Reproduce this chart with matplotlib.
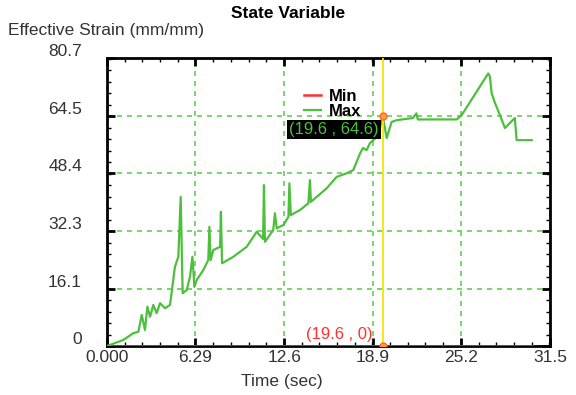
import matplotlib.pyplot as plt
from matplotlib.ticker import FixedLocator, AutoMinorLocator
import matplotlib.transforms as mtransforms

plt.rcParams['font.family'] = ['Liberation Sans', 'DejaVu Sans']

# time (sec) and effective strain (mm/mm)
t_max = [0.0, 1.16, 1.87, 2.23, 2.35, 2.47, 2.7, 2.87, 3.06, 3.29, 3.53, 3.77,
         4.12, 4.48, 4.71, 4.83, 5.07, 5.24, 5.31, 5.38, 5.67, 5.9, 6.07, 6.14,
         6.21, 6.38, 6.85, 7.2, 7.28, 7.37, 7.56, 8.04, 8.1, 8.18, 8.98, 9.93,
         10.64, 11.1, 11.16, 11.23, 11.82, 11.94, 12.07, 12.54, 12.9, 12.97,
         13.07, 13.72, 14.32, 14.43, 14.5, 15.62, 16.33, 17.04, 17.51, 18.0,
         18.2, 18.46, 18.7, 19.2, 19.41, 19.6, 19.89, 20.24, 20.6, 21.76, 22.0,
         22.1, 24.87, 25.22, 27.11, 27.23, 27.35, 27.59, 27.8, 28.3, 29.0,
         29.13, 30.2]
strain_max = [0.0, 1.7, 3.6, 4.0, 6.4, 8.7, 4.5, 11.0, 8.2, 11.5, 9.2, 12.0,
              10.6, 11.5, 18.5, 22.2, 25.0, 41.8, 27.8, 14.8, 15.7, 19.4, 25.0,
              21.3, 16.6, 18.5, 21.3, 24.1, 33.4, 24.1, 26.9, 27.8, 37.6, 23.2,
              25.0, 27.8, 32.0, 30.0, 45.1, 29.2, 32.5, 37.2, 33.0, 33.9, 36.2,
              45.6, 36.7, 38.1, 40.0, 46.5, 40.4, 44.2, 47.4, 48.4, 49.3, 54.0,
              55.5, 54.9, 56.9, 58.6, 61.1, 64.6, 58.3, 62.8, 63.3, 63.9, 65.2,
              63.5, 63.5, 64.7, 76.4, 75.5, 70.9, 68.1, 66.1, 61.1, 63.9, 57.7,
              57.7]
t_min = [0.0, 30.2]
strain_min = [0.0, 0.0]

cursor_t = 19.6
cursor_max = 64.6
cursor_min = 0

x_ticks = [0.0, 6.29, 12.6, 18.9, 25.2, 31.5]
x_labels = ['0.000', '6.29', '12.6', '18.9', '25.2', '31.5']
y_ticks = [0, 16.1, 32.3, 48.4, 64.5, 80.7]
y_labels = ['0', '16.1', '32.3', '48.4', '64.5', '80.7']

green = '#4cbf3c'
grid_green = '#5fd24f'
red = '#ff3030'

fig = plt.figure(figsize=(5.76, 3.95), dpi=100)
ax = fig.add_axes([0.1858, 0.124, 0.769, 0.729])

ax.plot(t_min, strain_min, color=red, lw=1.8, label='Min', zorder=3)
ax.plot(t_max, strain_max, color=green, lw=1.6, label='Max', zorder=3)
ax.axvline(cursor_t, color='#f2e600', lw=1.3, zorder=4)
ax.plot([cursor_t, cursor_t], [cursor_max, cursor_min], 'o', ms=5,
        mfc='#ff9a40', mec='#ff6a20', mew=1, zorder=5)

ax.set_xlim(x_ticks[0], x_ticks[-1])
ax.set_ylim(y_ticks[0], y_ticks[-1])
ax.xaxis.set_major_locator(FixedLocator(x_ticks))
ax.yaxis.set_major_locator(FixedLocator(y_ticks))
ax.set_xticklabels(x_labels)
ax.set_yticklabels(y_labels)
ax.xaxis.set_minor_locator(AutoMinorLocator(5))
ax.yaxis.set_minor_locator(AutoMinorLocator(5))
ax.tick_params(which='both', direction='in', top=True, right=True,
               labelsize=12.5, labelcolor='#333333')
ax.tick_params(which='major', length=6, width=2)
ax.tick_params(which='minor', length=3, width=1)
ax.tick_params(axis='y', pad=18)
ax.tick_params(axis='x', pad=3)
for lbl in ax.get_yticklabels():
    lbl.set_transform(lbl.get_transform() +
                      mtransforms.ScaledTranslation(0, 8 / 100, fig.dpi_scale_trans))
for sp in ax.spines.values():
    sp.set_linewidth(2)

ax.grid(True, which='major', color=grid_green, ls=(0, (3, 3)), lw=1.2)

ax.text(cursor_t - 0.25, cursor_max - 1.8, '(19.6 , 64.6)', ha='right', va='top',
        color=green, fontsize=12,
        bbox=dict(facecolor='black', edgecolor='none', pad=1.5), zorder=6)
ax.text(cursor_t - 0.7, 1.2, '(19.6 , 0)', ha='right', va='bottom',
        color=red, fontsize=12, zorder=6)

ax.legend(loc='upper left', bbox_to_anchor=(0.43, 0.915), frameon=False,
          handlelength=1.0, handletextpad=0.5, labelspacing=0.0,
          borderaxespad=0, prop={'weight': 'bold', 'size': 12})

fig.text(0.5, 0.965, 'State Variable', ha='center', va='center',
         fontsize=12.5, fontweight='bold')
fig.text(0.014, 0.922, 'Effective Strain (mm/mm)', ha='left', va='center',
         fontsize=12.5, color='#333333')
fig.text(0.49, 0.035, 'Time (sec)', ha='center', va='center',
         fontsize=12.5, color='#333333')

fig.savefig('out.png', dpi=100)
